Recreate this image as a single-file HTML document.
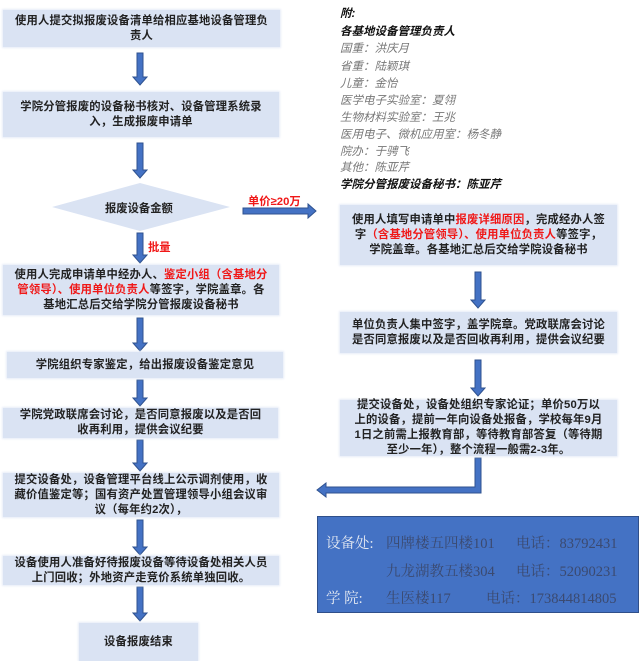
<!DOCTYPE html>
<html><head><meta charset="utf-8"><style>
body{margin:0;width:639px;height:661px;background:#fff;position:relative;overflow:hidden;font-family:"Liberation Sans","Noto Sans CJK SC",sans-serif}
.b{position:absolute;background:#dae3f3;box-shadow:0 0 2px 1px #e6ecf7;color:#222;font-weight:bold;font-size:11.3px;line-height:15px;text-align:center;display:flex;align-items:center;justify-content:center;letter-spacing:0.2px}
.b>div{width:100%}
.r{color:#f01818}
.n{position:absolute;font-style:italic;font-size:11.5px;color:#777;left:340px;line-height:14px}
.nb{color:#111;font-weight:bold;font-size:11.5px}
svg{position:absolute;left:0;top:0}
.t{position:absolute;font-family:"Liberation Serif","Noto Serif CJK SC",serif;font-size:14.5px;color:#3b4a70;white-space:nowrap}
.l{color:#e4e9f2}
</style></head><body>
<svg width="639" height="661">
<g fill="#4472c4" stroke="#2f528f" stroke-width="1">
<path d="M137 53h6v24h4l-7 8l-7-8h4z"/>
<path d="M137 143h6v27h4l-7 8l-7-8h4z"/>
<path d="M137 233h6v22h4l-7 8l-7-8h4z"/>
<path d="M137 318h6v25h4l-7 8l-7-8h4z"/>
<path d="M137 380h6v18h4l-7 8l-7-8h4z"/>
<path d="M137 440h6v23h4l-7 8l-7-8h4z"/>
<path d="M137 520h6v27h4l-7 8l-7-8h4z"/>
<path d="M137 587h6v26h4l-7 8l-7-8h4z"/>
<path d="M243 208h65v-4l8 7l-8 7v-4h-65z"/>
<path d="M475 272h6v28h4l-7 8l-7-8h4z"/>
<path d="M475 360h6v28h4l-7 8l-7-8h4z"/>
<path d="M475 458h6v35h-155v4l-9-7l9-7v4h149z"/>
</g>
<polygon points="52,207 140,183 230,207 140,231" fill="#dae3f3"/>
<rect x="317.5" y="516.5" width="321" height="96" fill="#4472c4" stroke="#2f4f8a"/>
</svg>
<div class="b" style="left:3px;top:10px;width:277px;height:37px"><div>使用人提交拟报废设备清单给相应基地设备管理负<br>责人</div></div>
<div class="b" style="left:3px;top:92px;width:276px;height:45px"><div>学院分管报废的设备秘书核对、设备管理系统录<br>入，生成报废申请单</div></div>
<div style="position:absolute;left:105px;top:200px;font-size:11.3px;font-weight:bold;color:#222">报废设备金额</div>
<div style="position:absolute;left:248px;top:193px;font-size:11.3px;font-weight:bold" class="r">单价≥20万</div>
<div style="position:absolute;left:148px;top:239px;font-size:11.3px;font-weight:bold" class="r">批量</div>
<div class="b" style="left:3px;top:265px;width:276px;height:50px"><div>使用人完成申请单中经办人、<span class="r">鉴定小组（含基地分<br>管领导）、使用单位负责人</span>等签字，学院盖章。各<br>基地汇总后交给学院分管报废设备秘书</div></div>
<div class="b" style="left:7px;top:352px;width:276px;height:26px"><div>学院组织专家鉴定，给出报废设备鉴定意见</div></div>
<div class="b" style="left:3px;top:408px;width:275px;height:30px"><div>学院党政联席会讨论，是否同意报废以及是否回<br>收再利用，提供会议纪要</div></div>
<div class="b" style="left:3px;top:473px;width:276px;height:44px"><div>提交设备处，设备管理平台线上公示调剂使用，收<br>藏价值鉴定等；国有资产处置管理领导小组会议审<br>议（每年约2次），</div></div>
<div class="b" style="left:3px;top:556px;width:276px;height:29px"><div>设备使用人准备好待报废设备等待设备处相关人员<br>上门回收；外地资产走竞价系统单独回收。</div></div>
<div class="b" style="left:79px;top:623px;width:119px;height:38px"><div>设备报废结束</div></div>
<div class="n nb" style="top:7px">附:</div>
<div class="n nb" style="top:25px">各基地设备管理负责人</div>
<div class="n" style="top:42px">国重：洪庆月</div>
<div class="n" style="top:60px">省重：陆颖琪</div>
<div class="n" style="top:77px">儿童：金怡</div>
<div class="n" style="top:94px">医学电子实验室：夏翎</div>
<div class="n" style="top:111px">生物材料实验室：王兆</div>
<div class="n" style="top:128px">医用电子、微机应用室：杨冬静</div>
<div class="n" style="top:145px">院办：于骋飞</div>
<div class="n" style="top:161px">其他：陈亚芹</div>
<div class="n nb" style="top:178px">学院分管报废设备秘书：陈亚芹</div>
<div class="b" style="left:340px;top:205px;width:277px;height:60px"><div>使用人填写申请单中<span class="r">报废详细原因</span>，完成经办人签<br>字<span class="r">（含基地分管领导）、使用单位负责人</span>等签字，<br>学院盖章。各基地汇总后交给学院设备秘书</div></div>
<div class="b" style="left:340px;top:312px;width:277px;height:41px"><div>单位负责人集中签字，盖学院章。党政联席会讨论<br>是否同意报废以及是否回收再利用，提供会议纪要</div></div>
<div class="b" style="left:340px;top:400px;width:277px;height:56px"><div>提交设备处，设备处组织专家论证；单价50万以<br>上的设备，提前一年向设备处报备，学校每年9月<br>1日之前需上报教育部，等待教育部答复（等待期<br>至少一年），整个流程一般需2-3年。</div></div>
<div class="t l" style="left:326px;top:532px">设备处:</div>
<div class="t" style="left:386px;top:532px">四牌楼五四楼101</div>
<div class="t" style="left:516px;top:532px">电话：83792431</div>
<div class="t" style="left:386px;top:560px">九龙湖教五楼304</div>
<div class="t" style="left:516px;top:560px">电话：52090231</div>
<div class="t l" style="left:326px;top:587px">学 院:</div>
<div class="t" style="left:386px;top:587px">生医楼117</div>
<div class="t" style="left:486px;top:587px">电话：17384481480​5</div>
</body></html>
